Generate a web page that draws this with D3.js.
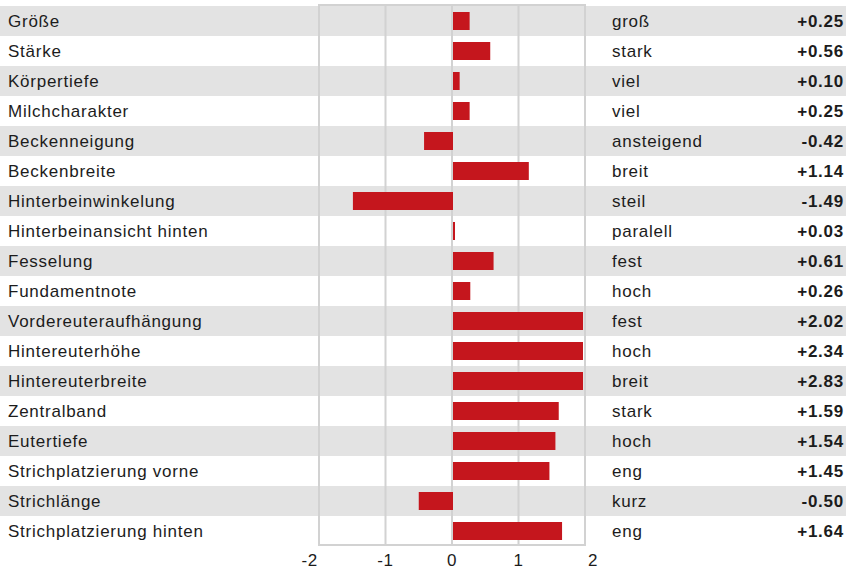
<!DOCTYPE html>
<html><head><meta charset="utf-8">
<script src="https://cdn.jsdelivr.net/npm/d3@7"></script>
<style>body{margin:0;background:#fff}svg{display:block}</style>
</head><body><svg id="c" width="846" height="569"></svg>
<script>
const traits = ["Größe","Stärke","Körpertiefe","Milchcharakter","Beckenneigung","Beckenbreite","Hinterbeinwinkelung","Hinterbeinansicht hinten","Fesselung","Fundamentnote","Vordereuteraufhängung","Hintereuterhöhe","Hintereuterbreite","Zentralband","Eutertiefe","Strichplatzierung vorne","Strichlänge","Strichplatzierung hinten"];
const directions = ["groß","stark","viel","viel","ansteigend","breit","steil","paralell","fest","hoch","fest","hoch","breit","stark","hoch","eng","kurz","eng"];
const values = [0.25,0.56,0.10,0.25,-0.42,1.14,-1.49,0.03,0.61,0.26,2.02,2.34,2.83,1.59,1.54,1.45,-0.50,1.64];
const ticks = [-2,-1,0,1,2];

const svg = d3.select("#c");
const W = 846;
const font = "'Liberation Sans', Arial, Helvetica, sans-serif";
const fs = 17;
const ls = "0.75px";
const txt = "#1c1c1c";
const y = d3.scaleBand().domain(d3.range(traits.length)).range([6, 546]).paddingInner(0).paddingOuter(0);
const x = d3.scaleLinear().domain([-2, 2]).range([319, 585]);

// row bands
svg.append("g").selectAll("rect").data(d3.range(traits.length)).join("rect")
  .attr("x", 0).attr("width", W).attr("y", i => y(i)).attr("height", y.bandwidth())
  .attr("fill", i => i % 2 === 0 ? "#e3e3e3" : "#ffffff");

// grid lines
svg.append("g").selectAll("line").data(ticks.slice(1, -1)).join("line")
  .attr("x1", d => x(d)).attr("x2", d => x(d)).attr("y1", 5).attr("y2", 545)
  .attr("stroke", "#d2d2d2").attr("stroke-width", 2);

// bars (clipped at the frame)
const x0 = x(0);
const maxW = x(2) - 2 - (x0 + 1);
const minX = x(-2) + 2;
const bh = y.bandwidth() * 0.6;
svg.append("g").selectAll("rect").data(values).join("rect")
  .attr("x", d => d >= 0 ? x0 + 1 : Math.max(minX, x(d)))
  .attr("width", d => d >= 0 ? Math.min(maxW, x(d) - x0) : (x0 + 1) - Math.max(minX, x(d)))
  .attr("y", (d, i) => y(i) + (y.bandwidth() - bh) / 2)
  .attr("height", bh)
  .attr("fill", "#c5161d");

// frame
svg.append("rect").attr("x", x(-2)).attr("y", 5).attr("width", x(2) - x(-2)).attr("height", 540)
  .attr("fill", "none").attr("stroke", "#d2d2d2").attr("stroke-width", 2);

// left labels
svg.append("g").selectAll("text").data(traits).join("text")
  .attr("x", 8).attr("y", (d, i) => y(i) + y.bandwidth() / 2).attr("dy", "0.35em")
  .attr("font-family", font).attr("font-size", fs).attr("letter-spacing", ls).attr("fill", txt).text(d => d);

// direction labels
svg.append("g").selectAll("text").data(directions).join("text")
  .attr("x", 612).attr("y", (d, i) => y(i) + y.bandwidth() / 2).attr("dy", "0.35em")
  .attr("font-family", font).attr("font-size", fs).attr("letter-spacing", ls).attr("fill", txt).text(d => d);

// values
const fmt = d => (d >= 0 ? "+" : "-") + Math.abs(d).toFixed(2);
svg.append("g").selectAll("text").data(values).join("text")
  .attr("x", 844).attr("y", (d, i) => y(i) + y.bandwidth() / 2).attr("dy", "0.35em")
  .attr("text-anchor", "end").attr("font-weight", "bold").attr("letter-spacing", ls)
  .attr("font-family", font).attr("font-size", fs).attr("fill", txt).text(d => fmt(d));

// x tick labels
svg.append("g").selectAll("text").data(ticks).join("text")
  .attr("x", d => d === -2 ? x(d) - 1 : d === 2 ? x(d) + 3 : x(d))
  .attr("y", 560).attr("dy", "0.35em")
  .attr("text-anchor", d => d === -2 ? "end" : d === 2 ? "start" : "middle")
  .attr("font-family", font).attr("font-size", fs).attr("letter-spacing", ls).attr("fill", txt).text(d => d);
</script></body></html>
